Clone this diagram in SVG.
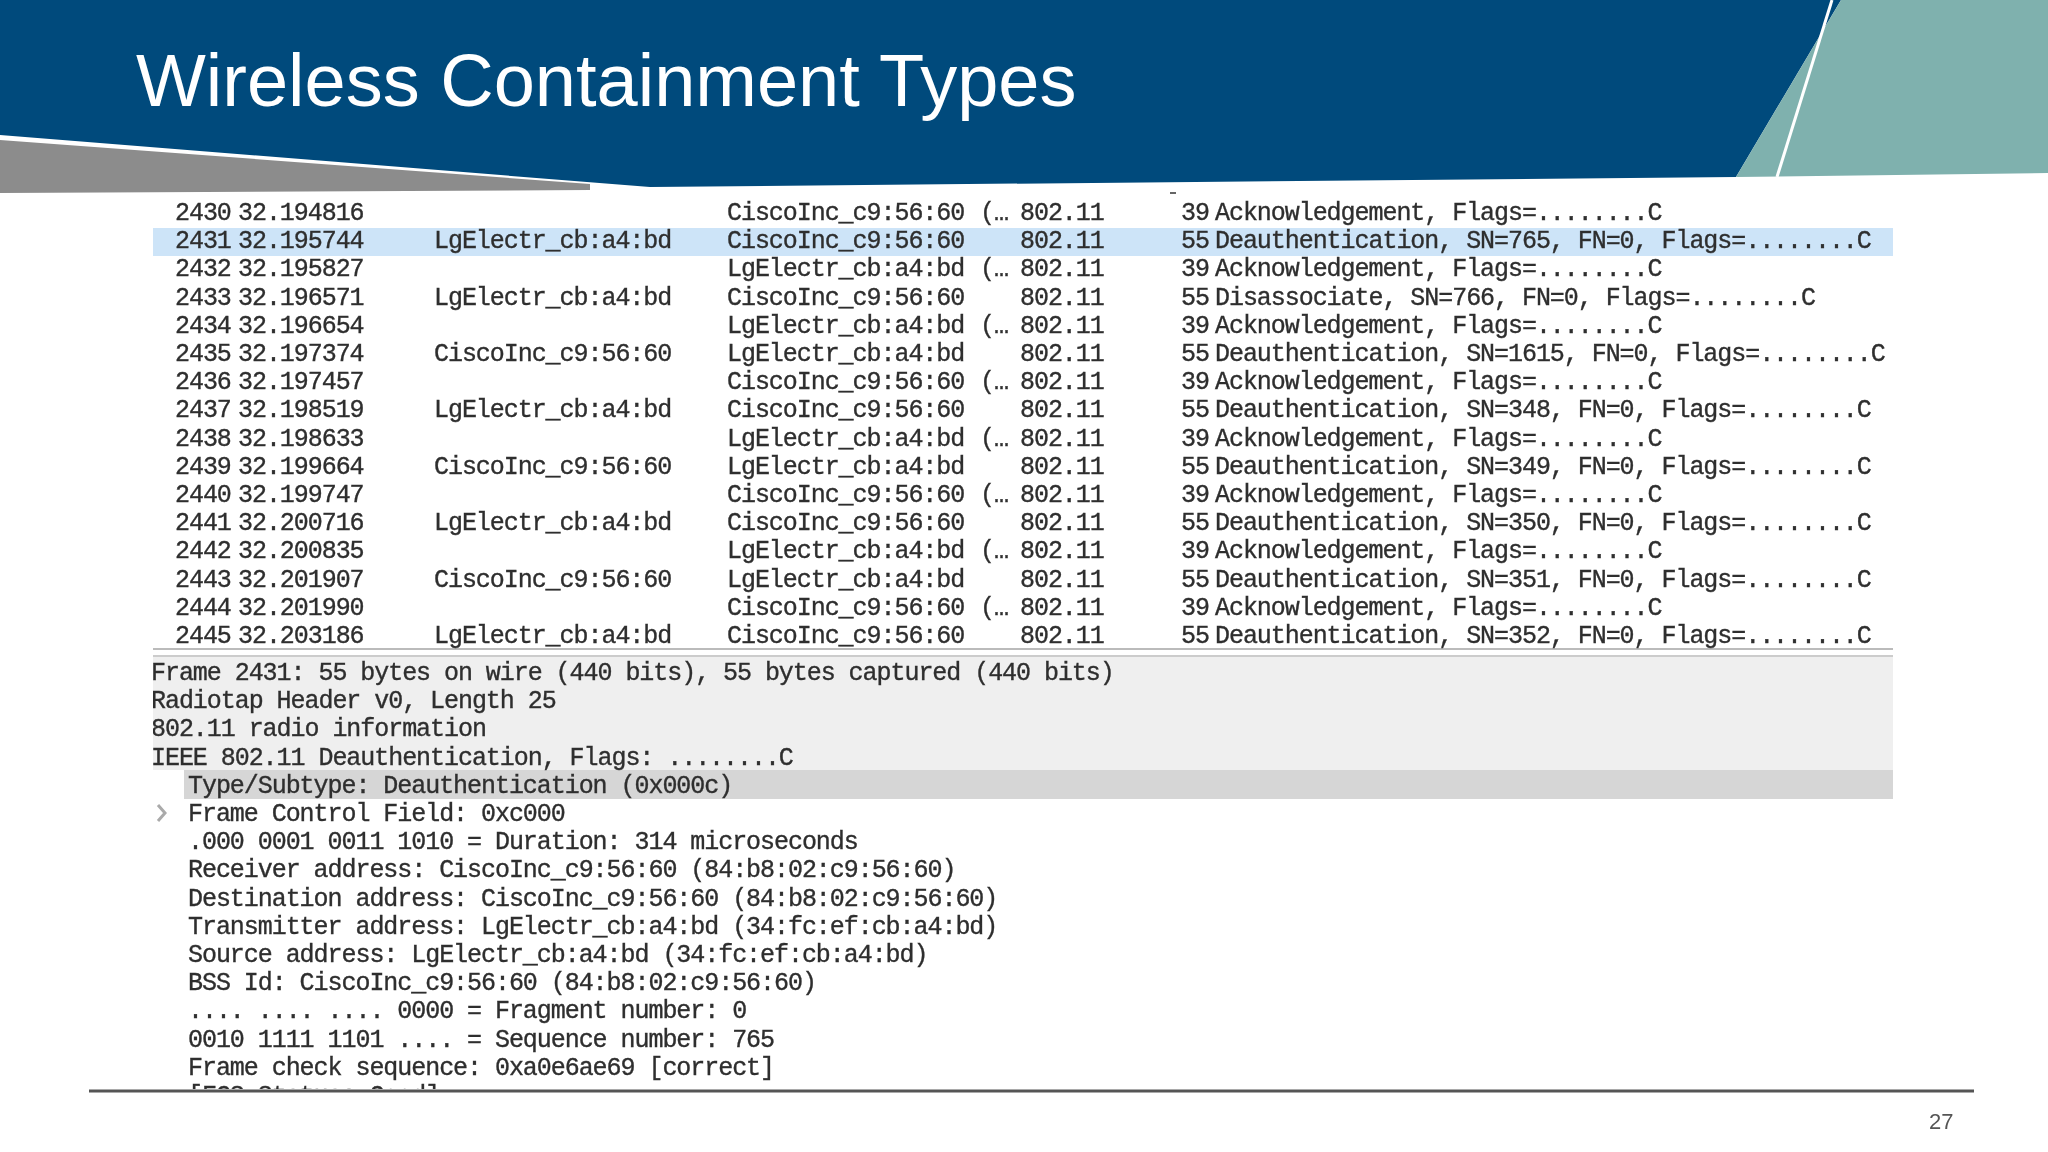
<svg xmlns="http://www.w3.org/2000/svg" width="2048" height="1152" viewBox="0 0 2048 1152">
<defs><style>
.m{font-family:"Liberation Mono","DejaVu Sans Mono",monospace;font-size:25px;letter-spacing:-1.05px;fill:#2e2e2e;stroke:#2e2e2e;stroke-width:.35px;white-space:pre}
</style>
<filter id="b" filterUnits="userSpaceOnUse" x="140" y="190" width="1770" height="920"><feGaussianBlur stdDeviation="0.6"/></filter>
<clipPath id="c"><rect x="153" y="640" width="1740" height="449"/></clipPath>
</defs>
<rect width="2048" height="1152" fill="#fff"/>
<g id="banner">
<path d="M0 0H1841L1736 177L650 187L0 135Z" fill="#004a7c"/>
<path d="M1841 0H2048V173L1736 177Z" fill="#7fb1ae"/>
<path d="M1832 0L1777 177" stroke="#fff" stroke-width="3" fill="none"/>
<path d="M0 140L590 184L590 190L0 193Z" fill="#8c8c8c"/>
<text x="136" y="106" font-family="Liberation Sans,Arial,sans-serif" font-size="74" fill="#fff">Wireless Containment Types</text>
</g>
<rect x="153" y="228" width="1740" height="28" fill="#cde4f8"/>
<rect x="153" y="657" width="1740" height="113" fill="#efefef"/>
<rect x="153" y="648" width="1740" height="2" fill="#bbb"/>
<rect x="153" y="655" width="1740" height="2" fill="#ccc"/>
<rect x="184" y="770" width="1709" height="29" fill="#d6d6d6"/>
<rect x="1170" y="192" width="6" height="2" fill="#666"/>
<path d="M158 805L165 813L158 821" stroke="#aaa" stroke-width="3" fill="none"/>
<g filter="url(#b)">
<g id="packets">
<text class="m" y="220"><tspan x="175">2430</tspan><tspan x="238">32.194816</tspan><tspan x="727">CiscoInc_c9:56:60</tspan><tspan x="980">(…</tspan><tspan x="1020">802.11</tspan><tspan x="1181">39</tspan><tspan x="1215">Acknowledgement, Flags=........C</tspan></text>
<text class="m" y="248.2"><tspan x="175">2431</tspan><tspan x="238">32.195744</tspan><tspan x="434">LgElectr_cb:a4:bd</tspan><tspan x="727">CiscoInc_c9:56:60</tspan><tspan x="1020">802.11</tspan><tspan x="1181">55</tspan><tspan x="1215">Deauthentication, SN=765, FN=0, Flags=........C</tspan></text>
<text class="m" y="276.4"><tspan x="175">2432</tspan><tspan x="238">32.195827</tspan><tspan x="727">LgElectr_cb:a4:bd</tspan><tspan x="980">(…</tspan><tspan x="1020">802.11</tspan><tspan x="1181">39</tspan><tspan x="1215">Acknowledgement, Flags=........C</tspan></text>
<text class="m" y="304.6"><tspan x="175">2433</tspan><tspan x="238">32.196571</tspan><tspan x="434">LgElectr_cb:a4:bd</tspan><tspan x="727">CiscoInc_c9:56:60</tspan><tspan x="1020">802.11</tspan><tspan x="1181">55</tspan><tspan x="1215">Disassociate, SN=766, FN=0, Flags=........C</tspan></text>
<text class="m" y="332.8"><tspan x="175">2434</tspan><tspan x="238">32.196654</tspan><tspan x="727">LgElectr_cb:a4:bd</tspan><tspan x="980">(…</tspan><tspan x="1020">802.11</tspan><tspan x="1181">39</tspan><tspan x="1215">Acknowledgement, Flags=........C</tspan></text>
<text class="m" y="361"><tspan x="175">2435</tspan><tspan x="238">32.197374</tspan><tspan x="434">CiscoInc_c9:56:60</tspan><tspan x="727">LgElectr_cb:a4:bd</tspan><tspan x="1020">802.11</tspan><tspan x="1181">55</tspan><tspan x="1215">Deauthentication, SN=1615, FN=0, Flags=........C</tspan></text>
<text class="m" y="389.2"><tspan x="175">2436</tspan><tspan x="238">32.197457</tspan><tspan x="727">CiscoInc_c9:56:60</tspan><tspan x="980">(…</tspan><tspan x="1020">802.11</tspan><tspan x="1181">39</tspan><tspan x="1215">Acknowledgement, Flags=........C</tspan></text>
<text class="m" y="417.4"><tspan x="175">2437</tspan><tspan x="238">32.198519</tspan><tspan x="434">LgElectr_cb:a4:bd</tspan><tspan x="727">CiscoInc_c9:56:60</tspan><tspan x="1020">802.11</tspan><tspan x="1181">55</tspan><tspan x="1215">Deauthentication, SN=348, FN=0, Flags=........C</tspan></text>
<text class="m" y="445.6"><tspan x="175">2438</tspan><tspan x="238">32.198633</tspan><tspan x="727">LgElectr_cb:a4:bd</tspan><tspan x="980">(…</tspan><tspan x="1020">802.11</tspan><tspan x="1181">39</tspan><tspan x="1215">Acknowledgement, Flags=........C</tspan></text>
<text class="m" y="473.8"><tspan x="175">2439</tspan><tspan x="238">32.199664</tspan><tspan x="434">CiscoInc_c9:56:60</tspan><tspan x="727">LgElectr_cb:a4:bd</tspan><tspan x="1020">802.11</tspan><tspan x="1181">55</tspan><tspan x="1215">Deauthentication, SN=349, FN=0, Flags=........C</tspan></text>
<text class="m" y="502"><tspan x="175">2440</tspan><tspan x="238">32.199747</tspan><tspan x="727">CiscoInc_c9:56:60</tspan><tspan x="980">(…</tspan><tspan x="1020">802.11</tspan><tspan x="1181">39</tspan><tspan x="1215">Acknowledgement, Flags=........C</tspan></text>
<text class="m" y="530.2"><tspan x="175">2441</tspan><tspan x="238">32.200716</tspan><tspan x="434">LgElectr_cb:a4:bd</tspan><tspan x="727">CiscoInc_c9:56:60</tspan><tspan x="1020">802.11</tspan><tspan x="1181">55</tspan><tspan x="1215">Deauthentication, SN=350, FN=0, Flags=........C</tspan></text>
<text class="m" y="558.4"><tspan x="175">2442</tspan><tspan x="238">32.200835</tspan><tspan x="727">LgElectr_cb:a4:bd</tspan><tspan x="980">(…</tspan><tspan x="1020">802.11</tspan><tspan x="1181">39</tspan><tspan x="1215">Acknowledgement, Flags=........C</tspan></text>
<text class="m" y="586.6"><tspan x="175">2443</tspan><tspan x="238">32.201907</tspan><tspan x="434">CiscoInc_c9:56:60</tspan><tspan x="727">LgElectr_cb:a4:bd</tspan><tspan x="1020">802.11</tspan><tspan x="1181">55</tspan><tspan x="1215">Deauthentication, SN=351, FN=0, Flags=........C</tspan></text>
<text class="m" y="614.8"><tspan x="175">2444</tspan><tspan x="238">32.201990</tspan><tspan x="727">CiscoInc_c9:56:60</tspan><tspan x="980">(…</tspan><tspan x="1020">802.11</tspan><tspan x="1181">39</tspan><tspan x="1215">Acknowledgement, Flags=........C</tspan></text>
<text class="m" y="643"><tspan x="175">2445</tspan><tspan x="238">32.203186</tspan><tspan x="434">LgElectr_cb:a4:bd</tspan><tspan x="727">CiscoInc_c9:56:60</tspan><tspan x="1020">802.11</tspan><tspan x="1181">55</tspan><tspan x="1215">Deauthentication, SN=352, FN=0, Flags=........C</tspan></text>
</g>
<g id="details" clip-path="url(#c)">
<text class="m" x="151" y="680">Frame 2431: 55 bytes on wire (440 bits), 55 bytes captured (440 bits)</text>
<text class="m" x="151" y="708.2">Radiotap Header v0, Length 25</text>
<text class="m" x="151" y="736.4">802.11 radio information</text>
<text class="m" x="151" y="764.6">IEEE 802.11 Deauthentication, Flags: ........C</text>
<text class="m" x="188" y="792.8">Type/Subtype: Deauthentication (0x000c)</text>
<text class="m" x="188" y="821">Frame Control Field: 0xc000</text>
<text class="m" x="188" y="849.2">.000 0001 0011 1010 = Duration: 314 microseconds</text>
<text class="m" x="188" y="877.4">Receiver address: CiscoInc_c9:56:60 (84:b8:02:c9:56:60)</text>
<text class="m" x="188" y="905.6">Destination address: CiscoInc_c9:56:60 (84:b8:02:c9:56:60)</text>
<text class="m" x="188" y="933.8">Transmitter address: LgElectr_cb:a4:bd (34:fc:ef:cb:a4:bd)</text>
<text class="m" x="188" y="962">Source address: LgElectr_cb:a4:bd (34:fc:ef:cb:a4:bd)</text>
<text class="m" x="188" y="990.2">BSS Id: CiscoInc_c9:56:60 (84:b8:02:c9:56:60)</text>
<text class="m" x="188" y="1018.4">.... .... .... 0000 = Fragment number: 0</text>
<text class="m" x="188" y="1046.6">0010 1111 1101 .... = Sequence number: 765</text>
<text class="m" x="188" y="1074.8">Frame check sequence: 0xa0e6ae69 [correct]</text>
<text class="m" x="188" y="1103">[FCS Status: Good]</text>
</g>
</g>
<g id="footer">
<rect x="89" y="1089.5" width="1885" height="3" fill="#555"/>
<text x="1929" y="1129" font-family="Liberation Sans,Arial,sans-serif" font-size="22" fill="#555">27</text>
</g>
</svg>
